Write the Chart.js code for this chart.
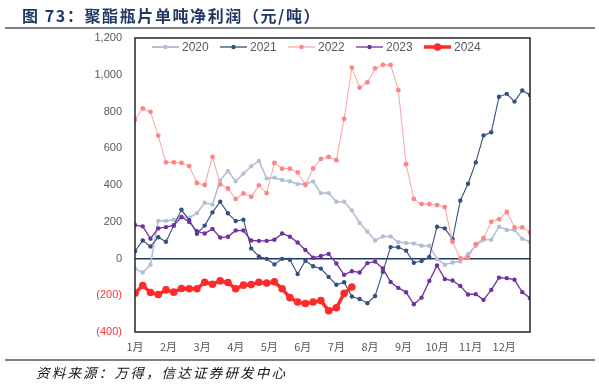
<!DOCTYPE html>
<html>
<head>
<meta charset="utf-8">
<script src="https://cdn.jsdelivr.net/npm/chart.js@4.4.1/dist/chart.umd.min.js"></script>
<style>
body { margin: 0; background: #fff; width: 599px; height: 385px; overflow: hidden; position: relative; font-family: "Noto Sans CJK SC", sans-serif; }
canvas { position: absolute; left: 0; top: 0; }
#title { position: absolute; left: 22px; top: 3px; font-size: 16px; font-weight: bold; color: #1F3864; white-space: nowrap; letter-spacing: 1.6px; }
#topline { position: absolute; left: 5px; top: 27px; width: 590px; height: 2px; background: #7f7f7f; }
#botline { position: absolute; left: 5px; top: 359px; width: 590px; height: 2px; background: #7f7f7f; }
#source { position: absolute; left: 36px; top: 362px; font-size: 13.5px; font-style: italic; color: #111; white-space: nowrap; letter-spacing: 2.2px; }
</style>
</head>
<body>
<canvas id="c" width="599" height="385"></canvas>
<div id="title">图 73：聚酯瓶片单吨净利润（元/吨）</div>
<div id="topline"></div>
<div id="botline"></div>
<div id="source">资料来源：万得，信达证券研发中心</div>
<script>
// x ticks: months; the series are weekly (52 weeks)
var monthLabels = ["1月","2月","3月","4月","5月","6月","7月","8月","9月","10月","11月","12月"];
var seriesNames = ["2020","2021","2022","2023","2024"];

var v2020 = [-56,-76,-34,205,205,211,225,222,247,303,293,425,476,420,462,502,531,436,440,427,420,405,405,420,356,356,
  309,309,262,193,147,98,120,120,89,84,82,69,69,-3,-34,-22,-16,24,69,102,102,173,155,155,107,91];
var v2021 = [40,98,65,116,91,180,265,209,135,179,251,309,246,204,211,55,11,-2,-32,-2,-7,-85,-12,-42,-55,-100,
  -143,-129,-207,-220,-243,-204,-73,62,61,43,-23,-14,8,173,164,106,316,407,523,670,687,880,896,854,914,890];
var v2022 = [755,817,798,669,523,523,520,503,411,400,553,403,381,324,354,336,398,356,520,489,489,469,400,490,542,553,
  535,760,1039,930,959,1035,1054,1054,916,513,324,296,296,291,280,91,0,4,78,111,200,213,253,169,169,142];
var v2023 = [182,175,108,164,171,180,226,199,148,136,161,114,118,153,152,98,96,96,102,136,119,87,46,4,14,25,
  -27,-89,-69,-76,-25,-17,-54,-128,-160,-184,-249,-213,-122,-38,-112,-120,-149,-196,-194,-225,-171,-104,-107,-116,-183,-216];
var v2024 = [-189,-147,-185,-196,-171,-183,-163,-165,-165,-129,-140,-122,-131,-165,-145,-142,-129,-134,-127,-165,
  -213,-237,-245,-237,-229,-284,-268,-190,-155];

var colors = ["#B4BFD3", "#34507F", "#FF8585", "#7030A0", "#FF2B2B"];

function toPoints(arr) {
    return arr.map(function (v, i) { return { x: i, y: v }; });
}

function makeSet(k, arr, width, radius) {
    return {
        label: seriesNames[k],
        data: toPoints(arr),
        borderColor: k == 2 ? "#FFA8A8" : colors[k],
        backgroundColor: colors[k],
        pointBackgroundColor: colors[k],
        pointBorderColor: colors[k],
        borderWidth: width,
        pointRadius: radius,
        pointBorderWidth: 0,
        tension: 0,
        order: 5 - k,
    };
}

const frameAndLegend = {
    id: "frameAndLegend",
    afterDraw(chart) {
        const ctx = chart.ctx;
        const a = chart.chartArea;
        ctx.save();
        ctx.strokeStyle = "#262626";
        ctx.lineWidth = 1.5;
        ctx.strokeRect(a.left, a.top, a.right - a.left, a.bottom - a.top);
        // legend inside the plot
        let y = 47;
        chart.data.datasets.forEach(function (ds, k) {
            let x0 = 152 + k * 68;
            ctx.strokeStyle = ds.borderColor;
            ctx.lineWidth = k == 4 ? 3.5 : (k == 0 ? 2 : 1.3);
            ctx.beginPath();
            ctx.moveTo(x0, y);
            ctx.lineTo(x0 + 27, y);
            ctx.stroke();
            ctx.fillStyle = ds.pointBackgroundColor;
            ctx.beginPath();
            ctx.arc(x0 + 13.5, y, k == 4 ? 3.8 : 2.2, 0, Math.PI * 2);
            ctx.fill();
            ctx.fillStyle = "#595959";
            ctx.font = "12px 'Liberation Sans', Arial, sans-serif";
            ctx.textBaseline = "middle";
            ctx.fillText(ds.label, x0 + 30, y + 0.5);
        });
        ctx.restore();
    }
};

new Chart(document.getElementById("c"), {
    type: "line",
    data: {
        datasets: [
            makeSet(0, v2020, 1.6, 2.2),
            makeSet(1, v2021, 1.1, 2.2),
            makeSet(2, v2022, 1.1, 2.4),
            makeSet(3, v2023, 1.3, 2.2),
            makeSet(4, v2024, 3.5, 3.8),
        ]
    },
    options: {
        responsive: false,
        animation: false,
        devicePixelRatio: 1,
        layout: { padding: { top: 38, right: 69, left: 0, bottom: 0 } },
        plugins: {
            legend: { display: false },
            tooltip: { enabled: false },
        },
        scales: {
            x: {
                type: "linear",
                min: 0,
                max: 51,
                afterFit: function (scale) { scale.height = 53; },
                afterBuildTicks: function (scale) {
                    scale.ticks = monthLabels.map(function (m, k) { return { value: k * 52 / 12 }; });
                },
                grid: { display: false, drawTicks: false },
                border: { display: false },
                ticks: {
                    autoSkip: false,
                    maxRotation: 0,
                    padding: 8,
                    color: "#595959",
                    font: { family: "'Noto Sans CJK SC'", size: 11 },
                    callback: function (v, idx) { return monthLabels[idx]; },
                },
            },
            y: {
                min: -400,
                max: 1200,
                afterFit: function (scale) { scale.width = 135; },
                grid: {
                    drawTicks: false,
                    lineWidth: 1.5,
                    color: function (c) { return c.tick && c.tick.value === 0 ? "#1F3864" : "rgba(0,0,0,0)"; },
                },
                border: { display: false },
                ticks: {
                    stepSize: 200,
                    padding: 13,
                    color: function (c) { return c.tick && c.tick.value < 0 ? "#FF3333" : "#595959"; },
                    font: { family: "'Liberation Sans', Arial", size: 11 },
                    callback: function (v) {
                        if (v < 0) return "(" + (-v) + ")";
                        return v.toLocaleString("en-US");
                    },
                },
            },
        },
    },
    plugins: [frameAndLegend],
});
</script>
</body>
</html>
